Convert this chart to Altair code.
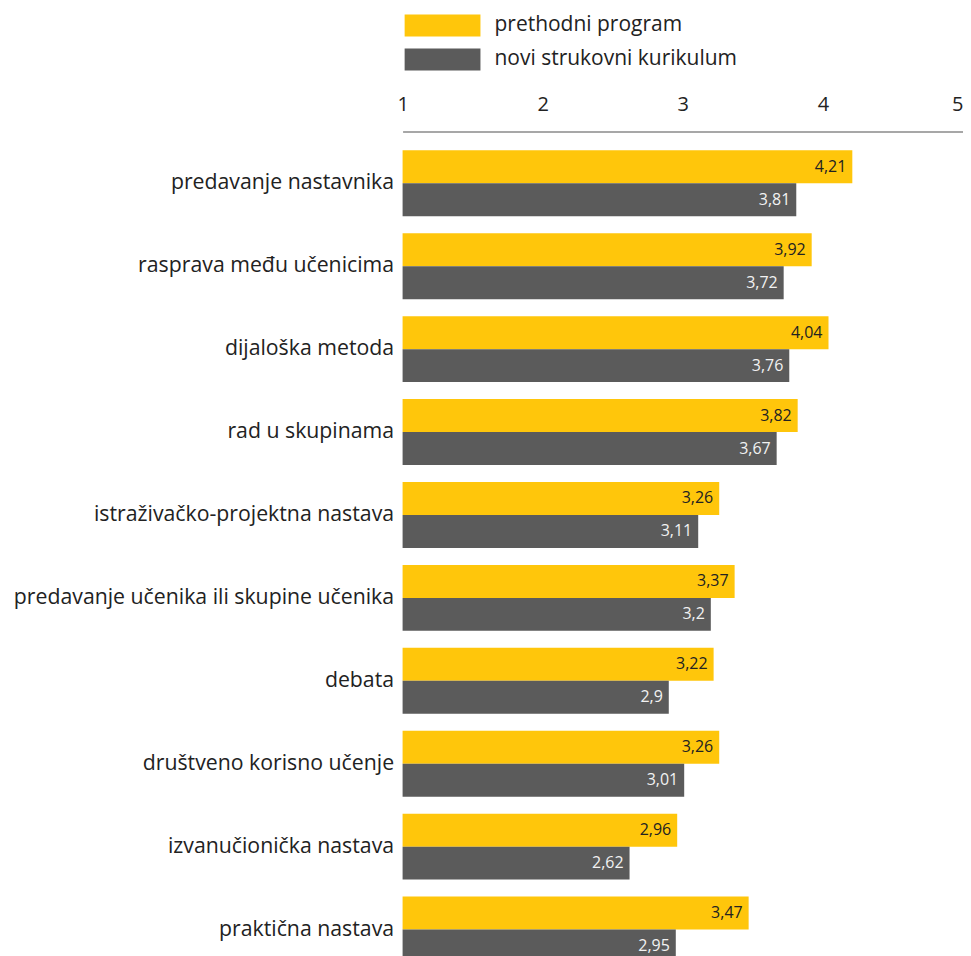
import altair as alt
import pandas as pd

categories = [
    "predavanje nastavnika",
    "rasprava među učenicima",
    "dijaloška metoda",
    "rad u skupinama",
    "istraživačko-projektna nastava",
    "predavanje učenika ili skupine učenika",
    "debata",
    "društveno korisno učenje",
    "izvanučionička nastava",
    "praktična nastava",
]
series = ["prethodni program", "novi strukovni kurikulum"]
prethodni = [4.21, 3.92, 4.04, 3.82, 3.26, 3.37, 3.22, 3.26, 2.96, 3.47]
novi = [3.81, 3.72, 3.76, 3.67, 3.11, 3.2, 2.9, 3.01, 2.62, 2.95]
ticks = [1, 2, 3, 4, 5]

rows = []
for c, a, b in zip(categories, prethodni, novi):
    rows.append({"kat": c, "serija": series[0], "v": a, "lab": str(a).replace(".", ",")})
    rows.append({"kat": c, "serija": series[1], "v": b, "lab": str(b).replace(".", ",")})
df = pd.DataFrame(rows)

FONT = "Open Sans"

y_enc = alt.Y("kat:N", sort=categories, title=None,
              scale=alt.Scale(paddingInner=0.205, paddingOuter=0.229),
              axis=alt.Axis(ticks=False, domain=False, labelPadding=9,
                            labelFontSize=21.3, labelColor="#222", labelFont=FONT,
                            labelLimit=600, minExtent=388, maxExtent=388))
yoff = alt.YOffset("serija:N", sort=series, scale=alt.Scale(paddingInner=0, paddingOuter=0))
x_enc = alt.X("v:Q", title=None,
              scale=alt.Scale(domain=[1, 5], zero=False, nice=False),
              axis=alt.Axis(orient="top", values=ticks, format="d", ticks=False, grid=False,
                            domainColor="#8a8a8a", domainWidth=1.5, labelPadding=17,
                            labelFontSize=20, labelColor="#222", labelFont=FONT,
                            labelFlush=False,
                            labelAlign={"expr": "datum.value == 5 ? 'right' : 'center'"}))

bars = alt.Chart(df).mark_bar().encode(
    x=x_enc,
    x2=alt.datum(1),
    y=y_enc,
    yOffset=yoff,
    color=alt.Color("serija:N", sort=series,
                    scale=alt.Scale(domain=series, range=["#FFC60B", "#5B5B5B"]),
                    legend=alt.Legend(title=None, orient="none", legendX=29, legendY=-117,
                                      symbolType="M-3.45,-1H3.45V1H-3.45Z", symbolSize=484,
                                      symbolStrokeWidth=0, symbolOpacity=1,
                                      labelFontSize=21, labelFont=FONT, labelColor="#222",
                                      labelOffset=41, labelLimit=600, rowPadding=12)),
)

txt1 = alt.Chart(df).transform_filter(alt.datum.serija == series[0]).mark_text(
    align="right", baseline="middle", dx=-6, fontSize=16, font=FONT, color="#222"
).encode(x=alt.X("v:Q"), y=alt.Y("kat:N", sort=categories), yOffset=alt.YOffset("serija:N", sort=series), text="lab:N")

txt2 = alt.Chart(df).transform_filter(alt.datum.serija == series[1]).mark_text(
    align="right", baseline="middle", dx=-6, fontSize=16, font=FONT, color="#f2f2f2"
).encode(x=alt.X("v:Q"), y=alt.Y("kat:N", sort=categories), yOffset=alt.YOffset("serija:N", sort=series), text="lab:N")

chart = alt.layer(bars, txt1, txt2).properties(
    width=561, height=851,
    padding={"left": 5, "top": 6, "right": 0, "bottom": 0},
).configure_view(stroke=None)

chart.save("out.html", embed_options={"renderer": "svg", "actions": False})
